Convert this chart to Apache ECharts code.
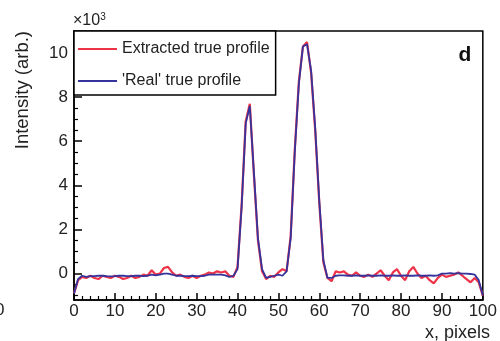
<!DOCTYPE html>
<html>
<head>
<meta charset="utf-8">
<script src="https://cdn.jsdelivr.net/npm/echarts@6/dist/echarts.min.js"></script>
<style>html,body{margin:0;padding:0;background:#fff;}#c{width:500px;height:341px;}</style>
</head>
<body>
<div id="c"></div>
<script>
var xs = [];
for (var i = 0; i <= 100; i++) xs.push(i);

var extracted = [
 -0.9,-0.3,-0.15,-0.2,-0.1,-0.2,-0.25,-0.1,-0.15,-0.2,
 -0.1,-0.15,-0.25,-0.2,-0.1,-0.2,-0.15,-0.05,-0.1,0.15,
 -0.05,0.0,0.25,0.3,0.05,-0.1,-0.05,-0.15,-0.2,-0.1,
 -0.2,-0.1,-0.05,0.05,0.0,0.1,0.05,0.1,-0.1,-0.15,
 0.3,3.1,6.9,7.7,4.5,1.5,0.1,-0.25,-0.1,-0.15,
 0.05,0.2,0.1,1.7,5.6,8.7,10.3,10.5,9.1,6.5,
 3.2,0.5,-0.2,-0.35,0.1,0.05,0.1,-0.05,-0.1,0.05,
 -0.1,-0.15,-0.05,-0.15,0.0,0.15,-0.1,-0.3,0.05,0.2,
 -0.1,-0.3,0.1,0.3,0.0,-0.2,-0.1,-0.3,-0.45,-0.2,
 -0.05,-0.15,-0.1,-0.05,0.05,-0.1,-0.25,-0.4,-0.2,-0.4,
 -1.0
];
var real = [
 -0.9,-0.25,-0.1,-0.15,-0.12,-0.12,-0.1,-0.1,-0.12,-0.13,
 -0.12,-0.1,-0.1,-0.12,-0.12,-0.1,-0.1,-0.12,-0.1,-0.05,
 -0.08,-0.05,0.0,0.0,-0.05,-0.1,-0.1,-0.12,-0.12,-0.1,
 -0.12,-0.12,-0.1,-0.05,-0.05,-0.05,-0.05,-0.08,-0.15,-0.1,
 0.2,3.0,6.8,7.6,4.6,1.6,0.2,-0.2,-0.15,-0.1,
 -0.05,-0.1,0.1,1.6,5.5,8.6,10.3,10.4,9.2,6.6,
 3.3,0.6,-0.2,-0.2,-0.1,-0.08,-0.08,-0.1,-0.1,-0.08,
 -0.1,-0.1,-0.08,-0.1,-0.1,-0.08,-0.1,-0.1,-0.08,-0.1,
 -0.1,-0.08,-0.1,-0.1,-0.08,-0.1,-0.1,-0.08,-0.1,-0.08,
 0.0,0.0,0.02,0.0,0.02,0.0,0.0,-0.02,-0.05,-0.3,
 -1.0
];
var seriesNames = ['Extracted true profile', "'Real' true profile"];
var yMajor = [0, 2, 4, 6, 8, 10];
var yMinor = [-1,-0.5,0.5,1,1.5,2.5,3,3.5,4.5,5,5.5,6.5,7,7.5,8.5,9,9.5,10.5];

function pairs(ys){ return xs.map(function(x,i){ return [x, ys[i]]; }); }

var FONT = 'Liberation Sans';
var chart = echarts.init(document.getElementById('c'), null, {renderer:'canvas'});
chart.setOption({
  backgroundColor: '#fff',
  animation: false,
  grid: {left: 74, right: 9, top: 31, bottom: 41, show: true, borderColor: '#000', borderWidth: 1.5, backgroundColor: '#fff'},
  legend: {
    orient: 'vertical', left: 74, top: 31,
    data: seriesNames,
    icon: 'rect', itemWidth: 39, itemHeight: 2, itemGap: 16,
    padding: [10, 6, 6, 4],
    borderColor: '#000', borderWidth: 1.5, backgroundColor: '#fff',
    textStyle: {fontFamily: FONT, fontSize: 16, color: '#222'}
  },
  xAxis: {
    type: 'value', min: 0, max: 100, interval: 10,
    axisLine: {onZero: false, lineStyle: {color: '#000', width: 1.5}},
    axisTick: {inside: true, length: 7, lineStyle: {color: '#000', width: 1.5}},
    minorTick: {show: true, splitNumber: 5, length: 4, lineStyle: {color: '#000', width: 1.2}},
    splitLine: {show: false},
    axisLabel: {fontFamily: FONT, fontSize: 17, color: '#222', margin: 3}
  },
  yAxis: [{
    type: 'value', min: -1.2, max: 11,
    axisLine: {show: true, onZero: false, lineStyle: {color: '#000', width: 1.5}},
    axisTick: {show: true, inside: true, length: 8, customValues: yMajor, lineStyle: {color: '#000', width: 1.5}},
    splitLine: {show: false},
    axisLabel: {customValues: yMajor, fontFamily: FONT, fontSize: 17, color: '#222', margin: 6}
  }, {
    type: 'value', min: -1.2, max: 11, position: 'left',
    axisLine: {show: false, onZero: false},
    axisTick: {show: true, inside: true, length: 4, customValues: yMinor, lineStyle: {color: '#000', width: 1.2}},
    splitLine: {show: false},
    axisLabel: {show: false}
  }],
  series: [{
    name: seriesNames[0], type: 'line', data: pairs(extracted), showSymbol: false,
    itemStyle: {color: '#ee3348'}, lineStyle: {color: '#ee3348', width: 2.2}
  }, {
    name: seriesNames[1], type: 'line', data: pairs(real), showSymbol: false,
    itemStyle: {color: '#34349c'}, lineStyle: {color: '#34349c', width: 1.8}
  }],
  graphic: [
    {type: 'text', x: 23, y: 31, rotation: Math.PI/2,
     style: {text: 'Intensity (arb.)', align: 'right', verticalAlign: 'middle', fontFamily: FONT, fontSize: 18.5, fill: '#222'}},
    {type: 'text', x: 490, y: 333,
     style: {text: 'x, pixels', align: 'right', verticalAlign: 'middle', fontFamily: FONT, fontSize: 18, fill: '#222'}},
    {type: 'text', x: 73, y: 21,
     style: {text: '×10{s|3}', align: 'left', verticalAlign: 'middle', fontFamily: FONT, fontSize: 16, fill: '#222',
       rich: {s: {fontFamily: FONT, fontSize: 10, verticalAlign: 'top', padding: [0,0,8,0], fill: '#222'}}}},
    {type: 'text', x: 465, y: 55,
     style: {text: 'd', align: 'center', verticalAlign: 'middle', fontFamily: FONT, fontSize: 21, fontWeight: 'bold', fill: '#111'}},
    {type: 'text', x: -5, y: 310,
     style: {text: '0', align: 'left', verticalAlign: 'middle', fontFamily: FONT, fontSize: 17, fill: '#222'}}
  ]
});
</script>
</body>
</html>
